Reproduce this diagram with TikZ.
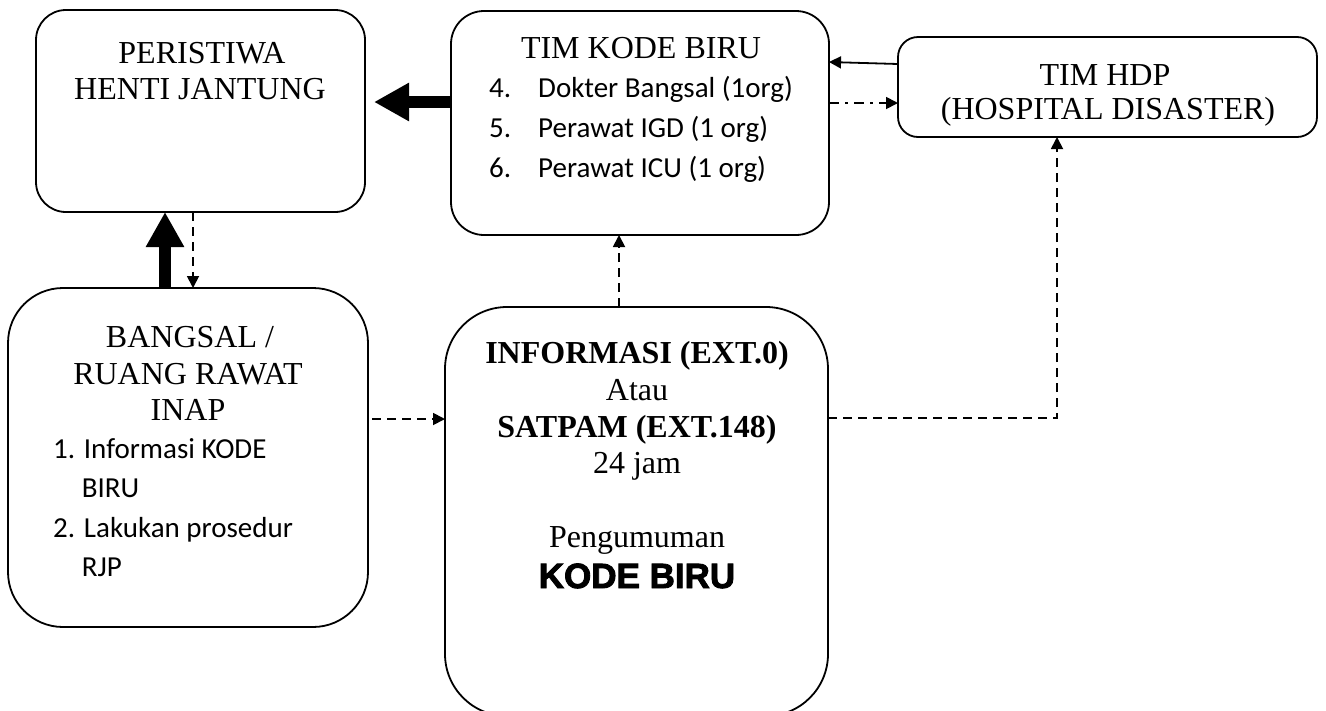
\documentclass[tikz,border=0pt]{standalone}
\usepackage{fontspec}
\setmainfont{Liberation Serif}
\newfontfamily\calfont{Carlito}
\newfontfamily\blackfont[FakeBold=2.5]{Liberation Sans Bold}
\usetikzlibrary{arrows.meta}
\begin{document}
\begin{tikzpicture}[x=1pt,y=-1pt,
  box/.style={draw, line width=1.8pt, rectangle, outer sep=0pt, inner sep=0pt},
  ser/.style={anchor=base, inner sep=0pt, font=\fontsize{32}{36}\selectfont},
  serb/.style={anchor=base, inner sep=0pt, font=\fontsize{32}{36}\selectfont\bfseries},
  cal/.style={anchor=base west, inner sep=0pt, font=\fontsize{29}{34}\selectfont\calfont},
  thinarrow/.style={line width=1.8pt, -{Triangle[length=12pt,width=12pt]}},
  dasharrow/.style={thinarrow, dash pattern=on 9pt off 6pt},
  dotdasharrow/.style={thinarrow, dash pattern=on 10pt off 6pt on 3pt off 6pt},
  thickarrow/.style={line width=12pt, -{Triangle[length=35pt,width=36pt]}}
]
\useasboundingbox (0,0) rectangle (1326,710);
\clip (0,0) rectangle (1326,710);

% boxes
\node[box, minimum width=329pt, minimum height=202pt, rounded corners=30pt] (A) at (200.5,111) {};
\node[box, minimum width=378pt, minimum height=224pt, rounded corners=33pt] (B) at (640,123) {};
\node[box, minimum width=419pt, minimum height=100pt, rounded corners=20pt] (D) at (1107.5,87) {};
\node[box, minimum width=360pt, minimum height=339pt, rounded corners=55pt] (C) at (188,457.5) {};
\node[box, minimum width=383pt, minimum height=409pt, rounded corners=62pt] (E) at (636.5,511.5) {};

% texts box A
\node[ser] (a1) at (202,63) {PERISTIWA};
\node[ser] (a2) at (200,99) {HENTI JANTUNG};

% texts box B
\node[ser] (b0) at (641,58) {TIM KODE BIRU};
\node[cal] (b1n) at (489,97) {4.};
\node[cal] (b1) at (538,97) {Dokter Bangsal (1org)};
\node[cal] (b2n) at (489,137) {5.};
\node[cal] (b2) at (538,137) {Perawat IGD (1 org)};
\node[cal] (b3n) at (489,177) {6.};
\node[cal] (b3) at (538,177) {Perawat ICU (1 org)};

% texts box D
\node[ser] (d1) at (1105,85) {TIM HDP};
\node[ser] (d2) at (1108,119) {(HOSPITAL DISASTER)};

% texts box C
\node[ser] (c1) at (190,347) {BANGSAL /};
\node[ser] (c2) at (188,384) {RUANG RAWAT};
\node[ser] (c3) at (188,420) {INAP};
\node[cal] (c4) at (53,458) {1. Informasi KODE};
\node[cal] (c5) at (53,497) {\phantom{1.} BIRU};
\node[cal] (c6) at (53,537) {2. Lakukan prosedur};
\node[cal] (c7) at (53,576) {\phantom{2.} RJP};

% texts box E
\node[serb] (e1) at (637,363) {INFORMASI (EXT.0)};
\node[ser] (e2) at (637,400) {Atau};
\node[serb] (e3) at (637,437) {SATPAM (EXT.148)};
\node[ser] (e4) at (637,473) {24 jam};
\node[ser] (e5) at (637,547) {Pengumuman};
\node[anchor=base, inner sep=0pt, font=\fontsize{35}{38}\selectfont\blackfont] (e6) at (637,588) {KODE BIRU};

% connectors
\draw[thickarrow, shorten >=9pt] (B.west |- 0,102) -- (A.east |- 0,102);
\draw[thickarrow] (C.north -| 165,0) -- (A.south -| 165,0);
\draw[dasharrow] (A.south -| 193,0) -- (C.north -| 193,0);
\draw[thinarrow] (D.west |- 0,64) -- (B.east |- 0,62);
\draw[dotdasharrow] (B.east |- 0,103) -- (D.west |- 0,103);
\draw[dasharrow, shorten <=4pt] (C.east |- 0,419) -- (E.west |- 0,419);
\draw[dasharrow] (E.north -| 619,0) -- (B.south -| 619,0);
\draw[dasharrow] (E.east |- 0,418) -| (D.south -| 1057,0);
\end{tikzpicture}
\end{document}
